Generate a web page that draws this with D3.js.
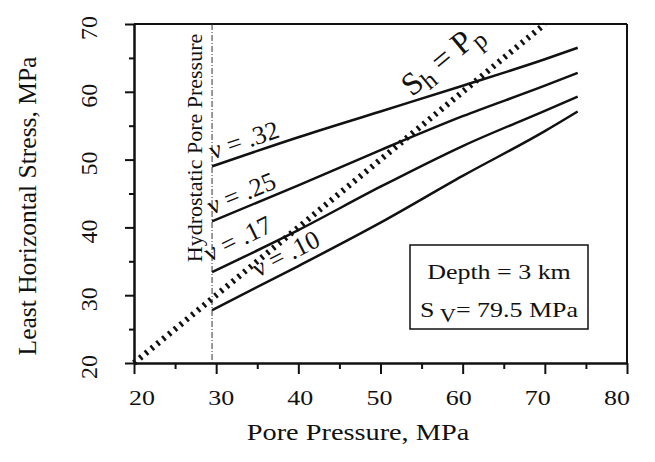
<!DOCTYPE html>
<html>
<head>
<meta charset="utf-8">
<script src="https://cdn.jsdelivr.net/npm/d3@7"></script>
<style>
	body { margin: 0; background: #fff; }
	text { font-family: "Liberation Serif", "DejaVu Serif", serif; fill: #111; }
</style>
</head>
<body>
<svg width="655" height="462"></svg>
<script>
// values
var poreP = [29.5, 40, 50, 60, 70, 74];
var nu32 = [49, 53.3, 57.1, 60.9, 64.8, 66.5];
var nu25 = [40.9, 46.2, 51.4, 56.4, 60.9, 62.8];
var nu17 = [33.4, 39.6, 46, 52, 57.2, 59.3];
var nu10 = [27.8, 34.3, 40.7, 47.6, 54.2, 57.1];
var nuNames = ["ν = .32", "ν = .25", "ν = .17", "ν = .10"];
var shEqPp = [20, 70];
var hydroP = 29.5;
var xTicks = [20, 30, 40, 50, 60, 70, 80];
var xMinor = [25, 35, 45, 55, 65, 75];
var yTicks = [20, 30, 40, 50, 60, 70];
var yMinor = [25, 35, 45, 55, 65];

var svg = d3.select("svg");
var sx = 1.18; // the scanned text is wider than it is tall

var x = d3.scaleLinear().domain([20, 80]).range([134, 627]);
var y = d3.scaleLinear().domain([20, 70]).range([363, 24]);
// label centres drift a little from their ticks in the scan
var xl = d3.scaleLinear().domain([20, 80]).range([142, 617]);

var g = svg.append("g");

// frame top and right
g.append("line")
	.attr("x1", x(20)).attr("x2", x(80))
	.attr("y1", y(70)).attr("y2", y(70))
	.attr("stroke", "#111").attr("stroke-width", 2);
g.append("line")
	.attr("x1", x(80)).attr("x2", x(80))
	.attr("y1", y(70)).attr("y2", y(20))
	.attr("stroke", "#111").attr("stroke-width", 2);

// axes
g.append("g")
	.attr("transform", "translate(0," + y(20) + ")")
	.call(d3.axisBottom(x).tickValues(xTicks).tickSize(11).tickSizeOuter(0).tickFormat(""));
g.append("g")
	.attr("transform", "translate(0," + y(20) + ")")
	.call(d3.axisBottom(x).tickValues(xMinor).tickSize(6).tickSizeOuter(0).tickFormat(""));
g.append("g")
	.attr("transform", "translate(" + x(20) + ",0)")
	.call(d3.axisLeft(y).tickValues(yTicks).tickSize(9).tickSizeOuter(0).tickFormat(""));
g.append("g")
	.attr("transform", "translate(" + x(20) + ",0)")
	.call(d3.axisLeft(y).tickValues(yMinor).tickSize(5).tickSizeOuter(0).tickFormat(""));

g.selectAll(".domain, .tick line").attr("stroke", "#111").attr("stroke-width", 2);

// tick labels
g.selectAll(".xlab")
	.data(xTicks)
	.enter().append("text")
	.attr("transform", function(d) { return "translate(" + xl(d) + ",405) scale(" + sx + ",1)"; })
	.attr("text-anchor", "middle")
	.style("font-size", "22px")
	.text(function(d) { return d; });

g.selectAll(".ylab")
	.data(yTicks)
	.enter().append("text")
	.attr("transform", function(d) { return "translate(97," + (y(d) + 4) + ") rotate(-90)"; })
	.attr("text-anchor", "middle")
	.style("font-size", "24px")
	.text(function(d) { return d; });

// axis titles
g.append("text")
	.attr("transform", "translate(358,440) scale(" + sx + ",1)")
	.attr("text-anchor", "middle")
	.style("font-size", "24px")
	.text("Pore Pressure, MPa");
g.append("text")
	.attr("transform", "translate(36,206) rotate(-90)")
	.attr("text-anchor", "middle")
	.style("font-size", "25.5px")
	.text("Least Horizontal Stress, MPa");

// hydrostatic line
g.append("line")
	.attr("x1", x(hydroP)).attr("x2", x(hydroP))
	.attr("y1", y(70)).attr("y2", y(20))
	.attr("stroke", "#333").attr("stroke-width", 1)
	.attr("stroke-dasharray", "6,2,1,2");
g.append("text")
	.attr("transform", "translate(" + (x(hydroP) - 10) + ",148) rotate(-90)")
	.attr("text-anchor", "middle")
	.style("font-size", "22px")
	.text("Hydrostatic Pore Pressure");

// Sh = Pp line
g.append("line")
	.attr("x1", x(shEqPp[0])).attr("y1", y(shEqPp[0]))
	.attr("x2", x(shEqPp[1])).attr("y2", y(shEqPp[1]))
	.attr("stroke", "#111").attr("stroke-width", 6)
	.attr("stroke-dasharray", "2.5,5");

var ang = Math.atan2(y(20) - y(70), x(70) - x(20)) * 180 / Math.PI;
var shLab = g.append("text")
	.attr("transform", "translate(" + x(56) + "," + y(56) + ") rotate(" + (-ang) + ")")
	.attr("y", -28)
	.style("font-size", "32px");
shLab.append("tspan").text("S");
shLab.append("tspan").attr("dy", 6).style("font-size", "25px").text("h");
shLab.append("tspan").attr("dy", -6).text(" = P");
shLab.append("tspan").attr("dy", 7).style("font-size", "25px").text("p");

// Poisson ratio curves
var series = [nu32, nu25, nu17, nu10];
var line = d3.line()
	.x(function(d, i) { return x(poreP[i]); })
	.y(function(d) { return y(d); })
	.curve(d3.curveMonotoneX);

g.selectAll(".nu")
	.data(series)
	.enter().append("path")
	.attr("d", line)
	.attr("fill", "none")
	.attr("stroke", "#111")
	.attr("stroke-width", 2.5);

// curve labels, laid along the start of each curve
var labAt = [29.8, 29.7, 29.7, 35.5];
var labOff = [-6, -6, -10, -8];
series.forEach(function(s, k) {
	var px = labAt[k];
	var py = s[0] + (s[1] - s[0]) * (px - poreP[0]) / (poreP[1] - poreP[0]);
	var a = Math.atan2(y(s[0]) - y(s[1]), x(poreP[1]) - x(poreP[0])) * 180 / Math.PI;
	g.append("text")
		.attr("transform", "translate(" + x(px) + "," + y(py) + ") rotate(" + (-a) + ")")
		.attr("y", labOff[k])
		.style("font-size", "26px")
		.text(nuNames[k]);
});

// note box
g.append("rect")
	.attr("x", 410).attr("y", 245)
	.attr("width", 178).attr("height", 84)
	.attr("fill", "#fff")
	.attr("stroke", "#111").attr("stroke-width", 1.5);
g.append("text")
	.attr("transform", "translate(499,279) scale(" + sx + ",1)")
	.attr("text-anchor", "middle")
	.style("font-size", "22px")
	.text("Depth = 3 km");
var sv = g.append("text")
	.attr("transform", "translate(499,317) scale(" + sx + ",1)")
	.attr("text-anchor", "middle")
	.style("font-size", "22px");
sv.append("tspan").text("S");
sv.append("tspan").attr("dy", 5).style("font-size", "19px").text(" V");
sv.append("tspan").attr("dy", -5).text("= 79.5 MPa");
</script>
</body>
</html>
